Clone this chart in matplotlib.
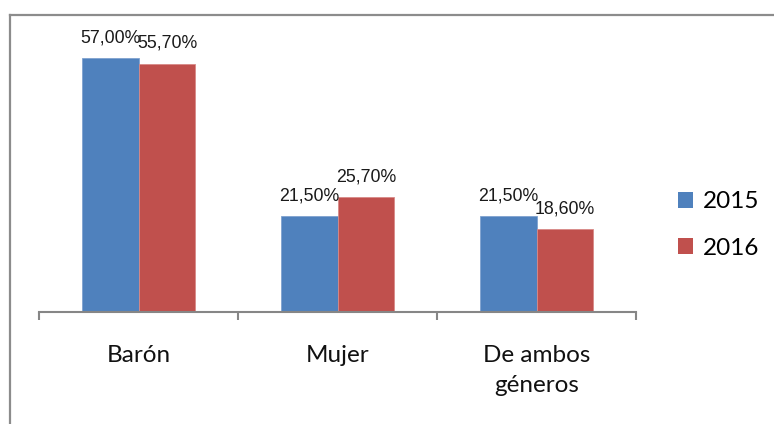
import matplotlib
matplotlib.use("Agg")
import matplotlib.pyplot as plt
from matplotlib.lines import Line2D
from matplotlib.patches import Patch
import numpy as np

categories = ["Barón", "Mujer", "De ambos\ngéneros"]
series_names = ["2015", "2016"]
values_2015 = [57.0, 21.5, 21.5]
values_2016 = [55.7, 25.7, 18.6]
labels_2015 = ["57,00%", "21,50%", "21,50%"]
labels_2016 = ["55,70%", "25,70%", "18,60%"]

W, H = 774, 424
fig = plt.figure(figsize=(W / 100, H / 100), dpi=100)

# axes in pixel geometry
x0, x1 = 39, 636
ybase, ytop = 312, 30
ax = fig.add_axes([x0 / W, (H - ybase) / H, (x1 - x0) / W, (ybase - ytop) / H])
px_per_unit = 4.456
ax.set_ylim(0, (ybase - ytop) / px_per_unit)
ax.set_xlim(-0.5, 2.5)

blue = "#4F81BD"
red = "#C0504D"
bw = 0.286
x = np.arange(len(categories))
b1 = ax.bar(x - bw / 2, values_2015, bw, color=blue, edgecolor="#7fa2cf", linewidth=0.6)
b2 = ax.bar(x + bw / 2, values_2016, bw, color=red, edgecolor="#d88a88", linewidth=0.6)

lab_font = dict(family=["Liberation Sans", "DejaVu Sans"], fontsize=12.8, color="#1a1a1a")
for xi, v, t in zip(x - bw / 2, values_2015, labels_2015):
    ax.annotate(t, (xi, v), xytext=(0, 11.5), textcoords="offset points",
                ha="center", va="baseline", **lab_font)
for xi, v, t in zip(x + bw / 2, values_2016, labels_2016):
    ax.annotate(t, (xi, v), xytext=(0, 11.5), textcoords="offset points",
                ha="center", va="baseline", **lab_font)

for s in ["top", "right", "left"]:
    ax.spines[s].set_visible(False)
ax.spines["bottom"].set_color("#868686")
ax.spines["bottom"].set_linewidth(1.5)
ax.set_yticks([])
ax.set_xticks(x)
ax.set_xticklabels(categories, fontfamily="Lato", fontsize=17.5, color="#111111",
                   linespacing=1.58)
ax.tick_params(axis="x", which="major", length=0, pad=23.5)
ax.set_xticks([-0.5, 0.5, 1.5, 2.5], minor=True)
ax.tick_params(axis="x", which="minor", length=6, width=1.5, color="#868686")

# legend
handles = [Patch(facecolor=blue), Patch(facecolor=red)]
leg = fig.legend(handles, series_names, loc="center left",
                 bbox_to_anchor=(678 / W, 1 - 225 / H), frameon=False,
                 prop=dict(family="Lato", size=17.5), handlelength=0.62,
                 handleheight=0.62, handletextpad=0.4, labelspacing=1.05,
                 borderpad=0, borderaxespad=0)

# chart border (left and top visible)
fig.add_artist(Line2D([10 / W, 10 / W], [0, 1 - 15 / H], color="#8c8c8c", lw=1.6,
                      transform=fig.transFigure))
fig.add_artist(Line2D([10 / W, 1], [1 - 15 / H, 1 - 15 / H], color="#8c8c8c", lw=1.6,
                      transform=fig.transFigure))

fig.savefig("out.png", dpi=100)
